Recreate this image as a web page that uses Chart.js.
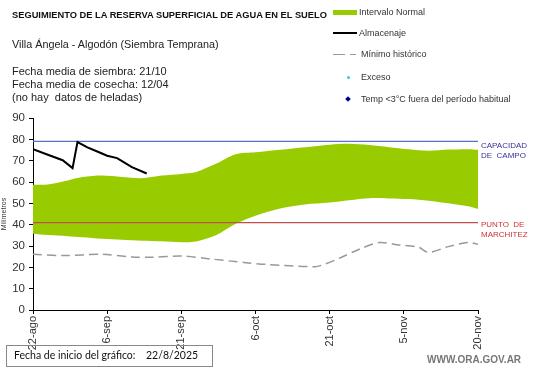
<!DOCTYPE html>
<html>
<head>
<meta charset="utf-8">
<script src="https://cdn.jsdelivr.net/npm/chart.js@4"></script>
<style>
  body { margin: 0; background: #fff; }
  #wrap { position: relative; width: 541px; height: 368px; overflow: hidden; font-family: "Liberation Sans", Arial, sans-serif; color: #222; }
  #chart { position: absolute; left: 0; top: 0; }
  .txt { position: absolute; white-space: nowrap; line-height: 1; }
  .leg { position: absolute; white-space: nowrap; font-size: 9px; color: #333; line-height: 1; }
  .mark { position: absolute; }
</style>
</head>
<body>
<div id="wrap">
  <canvas id="chart" width="541" height="368"></canvas>

  <div class="txt" style="left:12px; top:11px; font-size:9.3px; font-weight:bold; color:#111;">SEGUIMIENTO DE LA RESERVA SUPERFICIAL DE AGUA EN EL SUELO</div>
  <div class="txt" style="left:12px; top:39px; font-size:10.8px;">Villa Ángela - Algodón (Siembra Temprana)</div>
  <div class="txt" style="left:12px; top:66px; font-size:11px;">Fecha media de siembra: 21/10</div>
  <div class="txt" style="left:12px; top:79px; font-size:11px;">Fecha media de cosecha: 12/04</div>
  <div class="txt" style="left:12px; top:92px; font-size:11px;">(no hay&nbsp; datos de heladas)</div>

  <div class="mark" style="left:333px; top:10px; width:24px; height:5px; background:#99cc00;"></div>
  <div class="leg" style="left:359px; top:8px;">Intervalo Normal</div>
  <div class="mark" style="left:333px; top:32px; width:24px; height:2px; background:#000;"></div>
  <div class="leg" style="left:359px; top:29px;">Almacenaje</div>
  <div class="mark" style="left:333px; top:54px; width:12px; height:1px; background:#999;"></div>
  <div class="mark" style="left:350px; top:54px; width:6px; height:1px; background:#999;"></div>
  <div class="leg" style="left:361px; top:50px;">Mínimo histórico</div>
  <div class="mark" style="left:347px; top:76px; width:3px; height:3px; border-radius:2px; background:#33cccc;"></div>
  <div class="leg" style="left:361px; top:73px;">Exceso</div>
  <div class="mark" style="left:346px; top:97px; width:4px; height:4px; background:#000099; transform:rotate(45deg);"></div>
  <div class="leg" style="left:361px; top:95px;">Temp &lt;3°C fuera del período habitual</div>

  <div class="txt" style="left:481px; top:141px; font-size:8px; line-height:10px; color:#333399;">CAPACIDAD<br>DE&nbsp; CAMPO</div>
  <div class="txt" style="left:481px; top:220px; font-size:8px; line-height:10px; color:#cc3333;">PUNTO&nbsp; DE<br>MARCHITEZ</div>

  <div class="txt" style="left:6px; top:345px; width:205px; height:20px; border:1px solid #888; font-family:Lato, sans-serif; font-size:10.5px; color:#111;">
    <span style="position:absolute; left:7px; top:4px;">Fecha de inicio del gráfico:</span>
    <span style="position:absolute; left:139px; top:4px;">22/8/2025</span>
  </div>
  <div class="txt" style="left:427px; top:355px; font-size:10px; font-weight:bold; color:#777;">WWW.ORA.GOV.AR</div>
</div>

<script>
// values in mm, x = days since 22-ago
const dateLabels = ['22-ago', '6-sep', '21-sep', '6-oct', '21-oct', '5-nov', '20-nov'];

const normalDays = [0, 3, 7, 10, 14, 18, 22, 26, 30, 33, 37, 41, 45, 50, 55, 60, 64, 68, 72, 76, 80, 84, 88, 90];
const normalUpper = [58.7, 58.8, 60.7, 62.3, 63, 62.3, 61.8, 63, 63.8, 64.7, 68.5, 73, 73.9, 75.1, 76.3, 77.5, 77.9, 77.3, 76.3, 75.3, 74.6, 75.2, 75.4, 75.1];
const normalLower = [35.7, 35.1, 34.6, 34.1, 33.4, 32.9, 32.5, 32.2, 31.8, 32.1, 35, 40.4, 44.2, 47.6, 49.5, 50.4, 51.5, 52.4, 52.3, 52, 51.2, 50, 48.6, 47.4];

const storageDays = [0, 3, 6, 8, 9, 11, 13, 15, 17, 18, 20, 23];
const storageValues = [75.4, 72.8, 70.2, 66.5, 78.7, 76.2, 74.3, 72.3, 71.2, 69.8, 67, 64];

const minDays = [0, 6, 14, 20, 24, 30, 36, 43, 47, 57, 59, 62, 66, 70, 74, 78, 80, 84, 88, 90];
const minValues = [26.1, 25.5, 26.1, 24.9, 24.7, 25.3, 23.9, 22.2, 21.4, 20.3, 21.5, 24.3, 28.5, 31.6, 30.5, 29.4, 27, 29.7, 31.6, 30.8];

const fieldCapacity = 79;
const wiltingPoint = 41;

const toPoints = (xs, ys) => xs.map((x, i) => ({ x: x, y: ys[i] }));
const flat = (v) => [{ x: 0, y: v }, { x: 90, y: v }];

new Chart(document.getElementById('chart'), {
    type: 'line',
    data: {
        datasets: [
            {
                label: 'Almacenaje',
                data: toPoints(storageDays, storageValues),
                borderColor: '#000',
                borderWidth: 2,
                pointRadius: 0,
                fill: false,
                tension: 0,
            },
            {
                label: 'Punto de marchitez',
                data: flat(wiltingPoint),
                borderColor: '#c0504d',
                borderWidth: 1.2,
                pointRadius: 0,
                fill: false,
            },
            {
                label: 'Capacidad de campo',
                data: flat(fieldCapacity),
                borderColor: '#4f75c4',
                borderWidth: 1.2,
                pointRadius: 0,
                fill: false,
            },
            {
                label: 'Mínimo histórico',
                data: toPoints(minDays, minValues),
                borderColor: '#999',
                borderWidth: 1.5,
                borderDash: [9, 5],
                pointRadius: 0,
                fill: false,
                tension: 0.3,
            },
            {
                label: 'Normal inferior',
                data: toPoints(normalDays, normalLower),
                borderColor: '#99cc00',
                borderWidth: 0,
                pointRadius: 0,
                fill: false,
                tension: 0.3,
            },
            {
                label: 'Intervalo Normal',
                data: toPoints(normalDays, normalUpper),
                borderColor: '#99cc00',
                backgroundColor: '#99cc00',
                borderWidth: 0,
                pointRadius: 0,
                fill: '-1',
                tension: 0.3,
            },
        ],
    },
    options: {
        responsive: false,
        animation: false,
        devicePixelRatio: 1,
        layout: { padding: { left: 0, top: 118, right: 63, bottom: 12 } },
        plugins: { legend: { display: false }, tooltip: { enabled: false } },
        scales: {
            x: {
                type: 'linear',
                min: 0,
                max: 90,
                afterFit: (s) => { s.height = 46; },
                border: { color: '#000', width: 1 },
                grid: { drawOnChartArea: false, tickLength: 4, color: '#000' },
                ticks: {
                    stepSize: 15,
                    autoSkip: false,
                    minRotation: 90,
                    maxRotation: 90,
                    padding: 2,
                    color: '#333',
                    font: { family: 'Liberation Sans', size: 11 },
                    callback: (v) => dateLabels[v / 15],
                },
            },
            y: {
                min: 0,
                max: 90,
                afterFit: (s) => { s.width = 33; },
                border: { color: '#000', width: 1 },
                grid: { drawOnChartArea: false, tickLength: 4, color: '#000' },
                title: {
                    display: true,
                    text: 'Milímetros',
                    color: '#333',
                    padding: 0,
                    font: { family: 'Liberation Sans', size: 7 },
                },
                ticks: {
                    stepSize: 10,
                    padding: 4,
                    color: '#333',
                    font: { family: 'Liberation Sans', size: 11.5 },
                },
            },
        },
    },
});
</script>
</body>
</html>
